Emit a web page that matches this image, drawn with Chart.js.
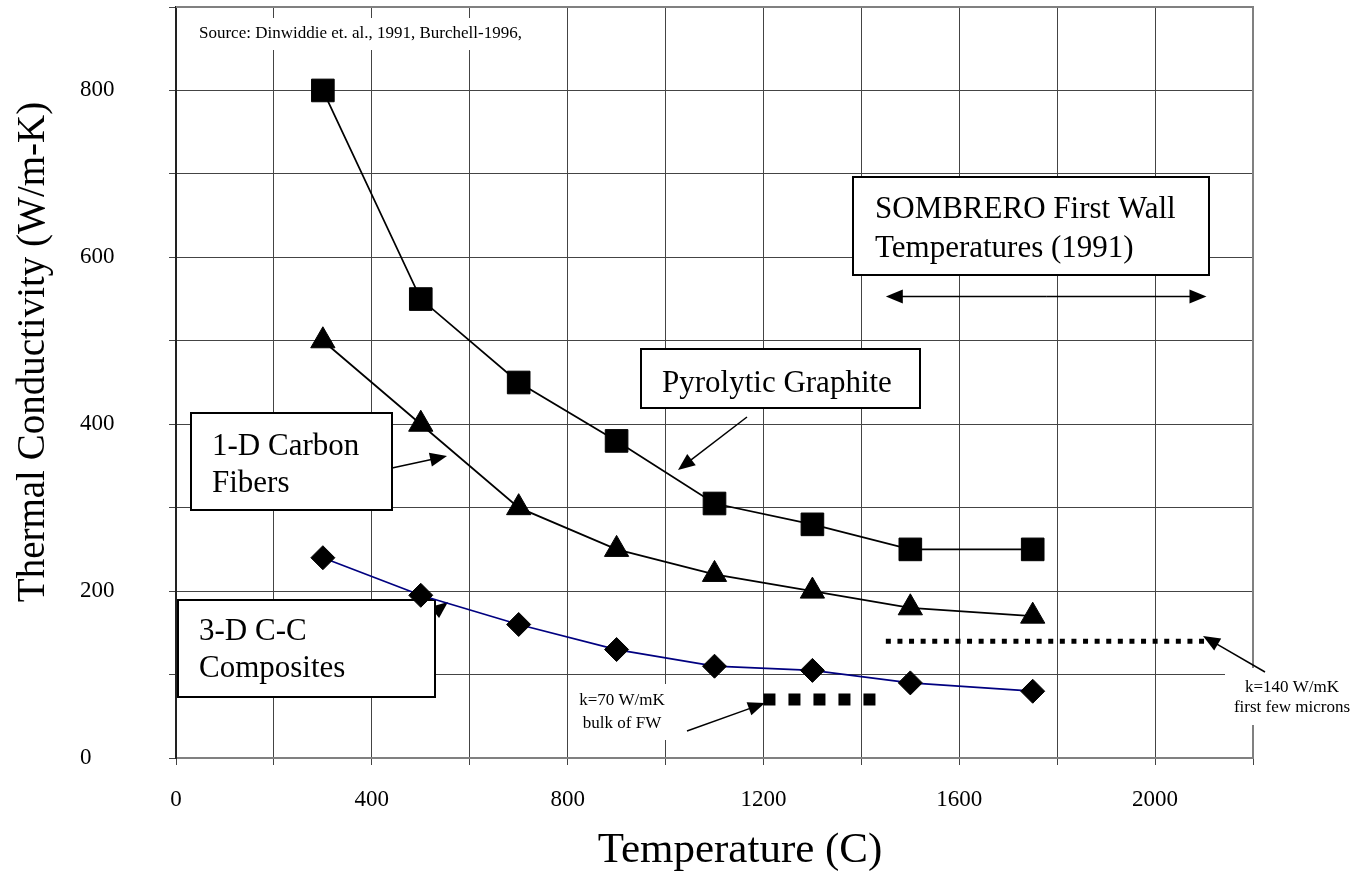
<!DOCTYPE html>
<html>
<head>
<meta charset="utf-8">
<title>Thermal Conductivity of Carbon Materials</title>
<script src="https://cdn.jsdelivr.net/npm/chart.js@4.4.1/dist/chart.umd.min.js"></script>
<style>
  html, body { margin: 0; padding: 0; background: #fff; }
</style>
</head>
<body>
<canvas id="chart" width="1354" height="872"></canvas>
<script>
// Temperatures (C) where each material was measured
const temps = [300, 500, 700, 900, 1100, 1300, 1500, 1750];
// Thermal conductivity (W/m-K)
const pyrolyticGraphite = [800, 550, 450, 380, 305, 280, 250, 250];
const carbonFibers1D = [500, 400, 300, 250, 220, 200, 180, 170];
const ccComposites3D = [240, 195, 160, 130, 110, 105, 90, 80];

const xLabels = [0, 400, 800, 1200, 1600, 2000];
const yLabels = [0, 200, 400, 600, 800];

// First wall: bulk and near-surface conductivity over their temperature spans
const fwBulkK = 70;
const fwBulkSpan = [1200, 1435];
const fwSurfaceK = 140;
const fwSurfaceSpan = [1450, 2100];
// SOMBRERO first wall temperature range (C)
const fwTempRange = [1450, 2105];

const SERIF = '"Liberation Serif", "Times New Roman", serif';

const toPoints = (ys) => temps.map((t, i) => ({ x: t, y: ys[i] }));

function drawArrow(ctx, x1, y1, x2, y2, head = 17, half = 7) {
  const a = Math.atan2(y2 - y1, x2 - x1);
  const c = Math.cos(a), s = Math.sin(a);
  ctx.beginPath();
  ctx.moveTo(x1, y1);
  ctx.lineTo(x2 - c * head * 0.8, y2 - s * head * 0.8);
  ctx.stroke();
  ctx.beginPath();
  ctx.moveTo(x2, y2);
  ctx.lineTo(x2 - head * c + half * s, y2 - head * s - half * c);
  ctx.lineTo(x2 - head * c - half * s, y2 - head * s + half * c);
  ctx.closePath();
  ctx.fill();
}

// boxed captions: [left, top, width, height], first baseline, line step
const captions = [
  { lines: ['SOMBRERO First Wall', 'Temperatures (1991)'], box: [853, 177, 356, 98], at: [875, 218], step: 39 },
  { lines: ['Pyrolytic Graphite'], box: [641, 349, 279, 59], at: [662, 392], step: 0 },
  { lines: ['1-D Carbon', 'Fibers'], box: [191, 413, 201, 97], at: [212, 455], step: 37 },
  { lines: ['3-D C-C', 'Composites'], box: [178, 600, 257, 97], at: [199, 640], step: 37 }
];

const pointers = [
  [747, 417, 678, 470],
  [392, 468, 447, 456],
  [687, 731, 765, 703],
  [1265, 672, 1203, 636]
];

const annotations = {
  id: 'annotations',
  beforeDatasetsDraw(chart) {
    const { ctx, chartArea: a, scales: { x, y } } = chart;
    ctx.save();

    // gray frame on top and right
    ctx.strokeStyle = '#808080';
    ctx.lineWidth = 2;
    ctx.beginPath();
    ctx.moveTo(a.left, a.top);
    ctx.lineTo(a.right, a.top);
    ctx.lineTo(a.right, a.bottom);
    ctx.stroke();

    ctx.fillStyle = '#000';
    ctx.strokeStyle = '#000';
    ctx.lineWidth = 1.5;

    // pointer tucked under the 3-D caption
    drawArrow(ctx, 350, 680, 448, 602);

    // source note
    ctx.fillStyle = '#fff';
    ctx.fillRect(190, 18, 340, 32);
    ctx.fillStyle = '#000';
    ctx.font = '17px ' + SERIF;
    ctx.textAlign = 'left';
    ctx.textBaseline = 'alphabetic';
    ctx.fillText('Source: Dinwiddie et. al., 1991, Burchell-1996,', 199, 38);

    // caption boxes
    ctx.font = '31px ' + SERIF;
    captions.forEach(c => {
      const [bx, by, bw, bh] = c.box;
      ctx.fillStyle = '#fff';
      ctx.fillRect(bx, by, bw, bh);
      ctx.lineWidth = 2;
      ctx.strokeRect(bx, by, bw, bh);
      ctx.fillStyle = '#000';
      c.lines.forEach((t, i) => ctx.fillText(t, c.at[0], c.at[1] + i * c.step));
    });

    // small first wall notes
    ctx.fillStyle = '#fff';
    ctx.fillRect(575, 684, 93, 56);
    ctx.fillRect(1225, 668, 129, 57);
    ctx.fillStyle = '#000';
    ctx.font = '17px ' + SERIF;
    ctx.textAlign = 'center';
    ctx.fillText('k=' + fwBulkK + ' W/mK', 622, 705);
    ctx.fillText('bulk of FW', 622, 728);
    ctx.fillText('k=' + fwSurfaceK + ' W/mK', 1292, 692);
    ctx.fillText('first few microns', 1292, 712);

    ctx.lineWidth = 1.5;
    pointers.forEach(p => drawArrow(ctx, p[0], p[1], p[2], p[3]));

    // first wall temperature range, double headed
    const yr = y.getPixelForValue(553);
    const x1 = x.getPixelForValue(fwTempRange[0]);
    const x2 = x.getPixelForValue(fwTempRange[1]);
    const mid = (x1 + x2) / 2;
    drawArrow(ctx, mid, yr, x1, yr);
    drawArrow(ctx, mid, yr, x2, yr);

    ctx.restore();
  },
  afterDraw(chart) {
    const { ctx } = chart;
    ctx.save();
    ctx.fillStyle = '#000';
    ctx.textBaseline = 'alphabetic';
    ctx.textAlign = 'center';
    ctx.font = '43px ' + SERIF;
    ctx.fillText('Temperature (C)', 740, 862);
    ctx.translate(44, 352);
    ctx.rotate(-Math.PI / 2);
    ctx.font = '39px ' + SERIF;
    ctx.fillText('Thermal Conductivity (W/m-K)', 0, 0);
    ctx.restore();
  }
};

const seriesStyle = (color, style, radius) => ({
  showLine: true,
  borderColor: color,
  borderWidth: 1.75,
  pointStyle: style,
  pointRadius: radius,
  pointHoverRadius: radius,
  pointBackgroundColor: '#000',
  pointBorderColor: '#000',
  pointBorderWidth: 1,
  tension: 0
});

const bandStyle = (width, dash) => ({
  showLine: true,
  borderColor: '#000',
  borderWidth: width,
  borderDash: dash,
  borderCapStyle: 'butt',
  pointRadius: 0,
  pointHoverRadius: 0
});

new Chart(document.getElementById('chart'), {
  type: 'scatter',
  data: {
    datasets: [
      { label: 'Pyrolytic Graphite', data: toPoints(pyrolyticGraphite), ...seriesStyle('#000', 'rect', 16) },
      { label: '1-D Carbon Fibers', data: toPoints(carbonFibers1D), ...seriesStyle('#000', 'triangle', 14) },
      { label: '3-D C-C Composites', data: toPoints(ccComposites3D), ...seriesStyle('#000080', 'rectRot', 12) },
      { label: 'k bulk', data: fwBulkSpan.map(t => ({ x: t, y: fwBulkK })), ...bandStyle(12, [12, 13]) },
      { label: 'k surface', data: fwSurfaceSpan.map(t => ({ x: t, y: fwSurfaceK })), ...bandStyle(5, [5, 6.6]) }
    ]
  },
  options: {
    responsive: false,
    animation: false,
    layout: { autoPadding: false, padding: { left: 80, right: 101, top: 7, bottom: 0 } },
    plugins: {
      legend: { display: false },
      tooltip: { enabled: false }
    },
    scales: {
      x: {
        type: 'linear',
        min: 0,
        max: 2200,
        afterFit(scale) {
          scale.height = 114;
          scale.paddingLeft = 0;
          scale.paddingRight = 0;
        },
        ticks: {
          stepSize: 200,
          autoSkip: false,
          maxRotation: 0,
          padding: 21,
          color: '#000',
          font: { family: SERIF, size: 23 },
          callback: v => xLabels.includes(v) ? String(v) : ''
        },
        grid: { color: '#444', lineWidth: 1, tickLength: 7, tickColor: '#444' },
        border: { color: '#808080', width: 2 }
      },
      y: {
        type: 'linear',
        min: 0,
        max: 900,
        afterFit(scale) {
          scale.width = 96;
          scale.paddingTop = 0;
          scale.paddingBottom = 0;
        },
        ticks: {
          stepSize: 100,
          autoSkip: false,
          crossAlign: 'far',
          color: '#000',
          font: { family: SERIF, size: 23 },
          callback: v => yLabels.includes(v) ? String(v) : ''
        },
        grid: { color: '#444', lineWidth: 1, tickLength: 7, tickColor: '#444' },
        border: { color: '#222', width: 2 }
      }
    }
  },
  plugins: [annotations]
});
</script>
</body>
</html>
